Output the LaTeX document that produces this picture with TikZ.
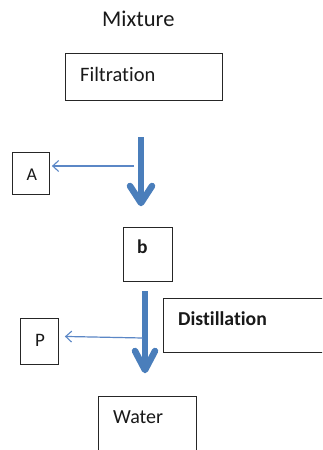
\documentclass[tikz,border=0pt]{standalone}
\usepackage{fontspec}
\setmainfont[Ligatures={NoCommon,NoRare}]{Carlito}
\usetikzlibrary{arrows.meta,calc}
\definecolor{bigblue}{HTML}{4A7EBB}
\definecolor{thinblue}{HTML}{5B87C6}
\tikzset{
  box/.style={draw=black!85, line width=0.9pt, anchor=north west, inner sep=0pt, fill=none},
  lbl/.style={anchor=base west, inner sep=0pt, text=black!90},
  bigarrow/.style={draw=bigblue, line width=6.5pt},
  bighead/.style={draw=bigblue, line width=6.5pt, line cap=round, line join=round},
  thinarrow/.style={draw=thinblue, line width=1.2pt, -{Straight Barb[length=6pt,width=11pt,line width=1.1pt]}}
}
\begin{document}
\begin{tikzpicture}[x=1pt,y=-1pt]
\useasboundingbox (0,0) rectangle (322,450);
\clip (0,0) rectangle (322,450);
\fill[white] (0,0) rectangle (322,450);
% boxes
\node[box, minimum width=157pt, minimum height=47pt] (filt) at (65,53) {};
\node[box, minimum width=37pt, minimum height=42pt] (Abox) at (12,152) {};
\node[box, minimum width=49pt, minimum height=54pt] (bbox) at (123,227) {};
\node[box, minimum width=180pt, minimum height=54pt] (dist) at (163,298) {};
\node[box, minimum width=38pt, minimum height=46pt] (Pbox) at (20,318) {};
\node[box, minimum width=98pt, minimum height=80pt] (water) at (98,396) {};
% labels
\node[lbl, font=\fontsize{22.5}{26}\selectfont] (mix) at (102,26.7) {Mixture};
\node[lbl, font=\fontsize{20.5}{24}\selectfont] (filtT) at (80,81.7) {Filtration};
\node[lbl, font=\fontsize{18}{22}\selectfont] (AT) at (26.5,180) {A};
\node[lbl, font=\fontsize{19.5}{23}\selectfont\bfseries] (bT) at (137,253) {b};
\node[lbl, font=\fontsize{19.7}{23}\selectfont\bfseries] (distT) at (178,325) {Distillation};
\node[lbl, font=\fontsize{19}{23}\selectfont] (PT) at (35,346) {P};
\node[lbl, font=\fontsize{20}{24}\selectfont] (waterT) at (113,423) {Water};
% big arrow 1
\coordinate (s1) at (141,137);
\coordinate (e1) at (141,203);
\draw[bigarrow] (s1) -- ($(e1)+(0,-4)$);
\draw[bighead] ($(e1)+(-11,-17)$) -- (e1) -- ($(e1)+(11,-17)$);
% big arrow 2
\coordinate (s2) at (145,291);
\coordinate (e2) at (145,370);
\draw[bigarrow] (s2) -- ($(e2)+(0,-4)$);
\draw[bighead] ($(e2)+(-10,-19)$) -- (e2) -- ($(e2)+(10,-19)$);
% thin arrows
\coordinate (t1) at (134,166);
\draw[thinarrow] (t1) -- ($(t1 -| Abox.east)+(2,0)$);
\coordinate (t2) at (143,338);
\draw[thinarrow] (t2) -- ($(Pbox.east)+(6,-5)$);
\end{tikzpicture}
\end{document}
